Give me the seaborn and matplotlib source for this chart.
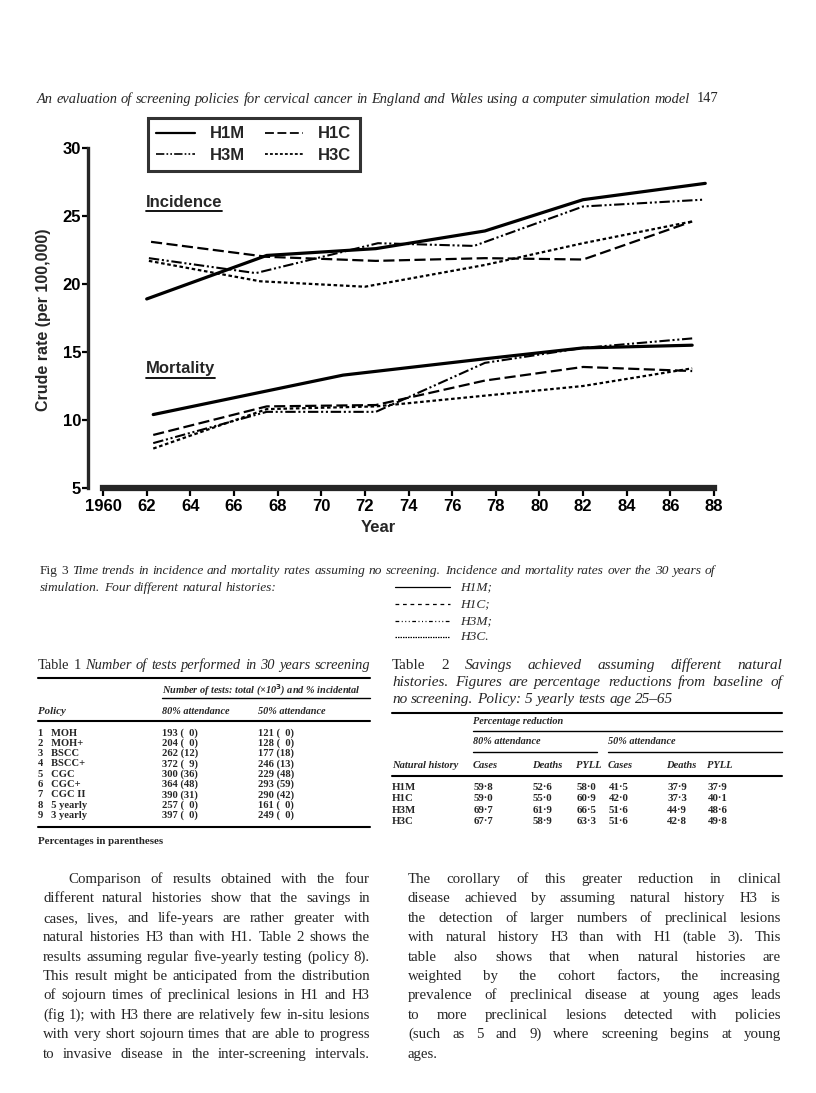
import numpy as np
import pandas as pd
import seaborn as sns
import matplotlib.pyplot as plt
from matplotlib.lines import Line2D

# Fig 3 data: crude rate per 100,000
histories = ['H1M', 'H3M', 'H1C', 'H3C']

inc_h1m_year = [1962.0, 1967.5, 1972.5, 1977.5, 1982.0, 1987.6]
inc_h1m_rate = [18.9, 22.1, 22.6, 23.9, 26.2, 27.4]
inc_h1c_year = [1962.2, 1967.5, 1972.5, 1977.5, 1982.0, 1987.0]
inc_h1c_rate = [23.1, 22.0, 21.7, 21.9, 21.8, 24.6]
inc_h3m_year = [1962.1, 1967.0, 1972.6, 1977.0, 1982.0, 1987.5]
inc_h3m_rate = [21.9, 20.8, 23.0, 22.8, 25.7, 26.2]
inc_h3c_year = [1962.1, 1967.2, 1972.0, 1977.5, 1982.0, 1987.0]
inc_h3c_rate = [21.7, 20.2, 19.8, 21.4, 23.0, 24.6]

mort_h1m_year = [1962.3, 1971.0, 1977.5, 1982.0, 1987.0]
mort_h1m_rate = [10.4, 13.3, 14.5, 15.3, 15.5]
mort_h1c_year = [1962.3, 1967.5, 1972.5, 1977.5, 1982.0, 1987.0]
mort_h1c_rate = [8.9, 11.0, 11.1, 12.9, 13.9, 13.6]
mort_h3m_year = [1962.3, 1967.5, 1972.5, 1977.5, 1982.0, 1987.0]
mort_h3m_rate = [8.3, 10.6, 10.6, 14.2, 15.3, 16.0]
mort_h3c_year = [1962.3, 1967.5, 1972.5, 1982.0, 1987.0]
mort_h3c_rate = [7.9, 10.8, 11.0, 12.5, 13.8]

xtick_vals = list(range(1960, 1989, 2))
xtick_labels = ['1960'] + [str(v % 100) for v in xtick_vals[1:]]
ytick_vals = [5, 10, 15, 20, 25, 30]

# Table 1
t1_policy = ['1   MOH', '2   MOH+', '3   BSCC', '4   BSCC+', '5   CGC', '6   CGC+',
             '7   CGC II', '8   5 yearly', '9   3 yearly']
t1_att80 = ['193 (  0)', '204 (  0)', '262 (12)', '372 (  9)', '300 (36)', '364 (48)',
            '390 (31)', '257 (  0)', '397 (  0)']
t1_att50 = ['121 (  0)', '128 (  0)', '177 (18)', '246 (13)', '229 (48)', '293 (59)',
            '290 (42)', '161 (  0)', '249 (  0)']

# Table 2
t2_history = ['H1M', 'H1C', 'H3M', 'H3C']
t2_cases80 = ['59·8', '59·0', '69·7', '67·7']
t2_deaths80 = ['52·6', '55·0', '61·9', '58·9']
t2_pyll80 = ['58·0', '60·9', '66·5', '63·3']
t2_cases50 = ['41·5', '42·0', '51·6', '51·6']
t2_deaths50 = ['37·9', '37·3', '44·9', '42·8']
t2_pyll50 = ['37·9', '40·1', '48·6', '49·8']

para_left = [
    'Comparison of results obtained with the four',
    'different natural histories show that the savings in',
    'cases, lives, and life-years are rather greater with',
    'natural histories H3 than with H1. Table 2 shows the',
    'results assuming regular five-yearly testing (policy 8).',
    'This result might be anticipated from the distribution',
    'of sojourn times of preclinical lesions in H1 and H3',
    '(fig 1); with H3 there are relatively few in-situ lesions',
    'with very short sojourn times that are able to progress',
    'to invasive disease in the inter-screening intervals.',
]
para_right = [
    'The corollary of this greater reduction in clinical',
    'disease achieved by assuming natural history H3 is',
    'the detection of larger numbers of preclinical lesions',
    'with natural history H3 than with H1 (table 3). This',
    'table also shows that when natural histories are',
    'weighted by the cohort factors, the increasing',
    'prevalence of preclinical disease at young ages leads',
    'to more preclinical lesions detected with policies',
    '(such as 5 and 9) where screening begins at young',
    'ages.',
]

# long-form table for seaborn
frames = []
for measure, hist, yrs, vals in [
        ('Incidence', 'H1M', inc_h1m_year, inc_h1m_rate),
        ('Incidence', 'H1C', inc_h1c_year, inc_h1c_rate),
        ('Incidence', 'H3M', inc_h3m_year, inc_h3m_rate),
        ('Incidence', 'H3C', inc_h3c_year, inc_h3c_rate),
        ('Mortality', 'H1M', mort_h1m_year, mort_h1m_rate),
        ('Mortality', 'H1C', mort_h1c_year, mort_h1c_rate),
        ('Mortality', 'H3M', mort_h3m_year, mort_h3m_rate),
        ('Mortality', 'H3C', mort_h3c_year, mort_h3c_rate)]:
    frames.append(pd.DataFrame({'year': yrs, 'rate': vals, 'history': hist, 'measure': measure}))
df = pd.concat(frames, ignore_index=True)

sns.set_theme(style='ticks')
plt.rcParams['font.family'] = ['Liberation Sans', 'DejaVu Sans']
plt.rcParams['font.weight'] = 'bold'

W, H = 816, 1093
fig = plt.figure(figsize=(W / 100, H / 100), dpi=100)
fig.patch.set_facecolor('white')

def fx(x):
    return x / W

def fy(y):
    return 1 - y / H

ax = fig.add_axes([fx(88), fy(488), (714 - 88) / W, (488 - 148) / H])
ax.set_facecolor('white')

dash_map = {'H1M': '', 'H1C': (5, 2), 'H3M': (5, 1.3, 1, 1.3, 1, 1.3), 'H3C': (1.6, 1.2)}
width_map = {'H1M': 2.3, 'H1C': 1.6, 'H3M': 1.5, 'H3C': 1.6}

sns.lineplot(data=df, x='year', y='rate', style='history', size='history', units='measure',
             estimator=None, color='black', dashes=dash_map, sizes=width_map,
             style_order=histories, size_order=histories, legend=False, ax=ax)

ax.set_xlim(1959.31, 1988.0)
ax.set_ylim(5, 30)
sns.despine(ax=ax)
ax.spines['left'].set_bounds(5, 30)
ax.spines['left'].set_linewidth(2.4)
ax.spines['bottom'].set_bounds(1960, 1988)
ax.spines['bottom'].set_linewidth(4.5)
ax.set_xticks(xtick_vals)
ax.set_xticklabels(xtick_labels)
ax.set_yticks(ytick_vals)
ax.tick_params(axis='x', length=6, width=1.6, pad=2, labelsize=12, colors='black')
ax.tick_params(axis='y', length=4, width=1.6, pad=1, labelsize=12, colors='black')
ax.set_xlabel('Year', fontsize=12, fontweight='bold')
ax.set_ylabel('Crude rate (per 100,000)', fontsize=11.5, fontweight='bold')
ax.xaxis.set_label_coords((378 - 88) / 626, -(528 - 488) / 340)
ax.yaxis.set_label_coords((44 - 88) / 626, (488 - 320) / 340)
ax.yaxis.label.set_va('center')
ax.xaxis.label.set_va('center')
ax.grid(False)

inc_txt = ax.text(1961.95, 26.0, 'Incidence', fontsize=12, va='center', ha='left')
mort_txt = ax.text(1961.95, 13.75, 'Mortality', fontsize=12, va='center', ha='left')

handles = []
for h in histories:
    if dash_map[h] == '':
        handles.append(Line2D([], [], color='black', lw=width_map[h] * 0.7))
    else:
        handles.append(Line2D([], [], color='black', lw=width_map[h] * 0.8, dashes=dash_map[h]))
leg = ax.legend(handles, histories, ncol=2, loc='upper left',
                bbox_to_anchor=(fx(148), fy(118)), bbox_transform=fig.transFigure,
                frameon=True, fancybox=False, edgecolor='black', fontsize=12,
                handlelength=2.3, handletextpad=0.9, columnspacing=1.2, borderpad=0.5,
                labelspacing=0.4, borderaxespad=0)
leg.get_frame().set_linewidth(2.2)

fig.canvas.draw()
renderer = fig.canvas.get_renderer()

# underline Incidence / Mortality
for t in (inc_txt, mort_txt):
    bb = t.get_window_extent(renderer)
    yline = bb.y0 - 1
    fig.add_artist(Line2D([bb.x0 / W, bb.x1 / W], [yline / H, yline / H], color='black', lw=1.3))

SERIF = 'Liberation Serif'


def natural_width(segments, size, weight='normal'):
    total = 0
    n = 0
    for text, style in segments:
        for w in text.split():
            t = fig.text(0, 0, w, fontsize=size, family=SERIF, style=style, weight=weight)
            total += t.get_window_extent(renderer).width
            t.remove()
            n += 1
    return total + (n - 1) * size * 100 / 72 * 0.25


def fit_size(segment_lists, target, base=10.0, weight='normal'):
    widest = max(natural_width(s, base, weight) for s in segment_lists)
    return base * target / widest


def words_line(segments, x0, ybase, x1=None, size=10.5, weight='normal'):
    """segments: list of (text, style). justified between x0 and x1 if x1 given"""
    objs = []
    for text, style in segments:
        for w in text.split():
            objs.append(fig.text(0, fy(ybase), w, fontsize=size, family=SERIF,
                                 style=style, weight=weight, va='baseline', ha='left'))
    widths = [o.get_window_extent(renderer).width for o in objs]
    if x1 is None or len(objs) < 2:
        gap = size * 100 / 72 * 0.25
    else:
        gap = (x1 - x0 - sum(widths)) / (len(objs) - 1)
    x = x0
    for o, w in zip(objs, widths):
        o.set_x(fx(x))
        x += w + gap
    return x - gap


def ptext(x, y, s, size=8.5, style='normal', weight='normal', ha='left', va='center'):
    return fig.text(fx(x), fy(y), s, fontsize=size, family=SERIF, style=style,
                    weight=weight, ha=ha, va=va)


def hrule(x0, x1, y, lw=1.0):
    fig.add_artist(Line2D([fx(x0), fx(x1)], [fy(y), fy(y)], color='black', lw=lw))


# running header
head = [('An evaluation of screening policies for cervical cancer in England and Wales using a computer simulation model', 'italic')]
hs = fit_size([head], 690 - 37)
words_line(head, 37, 103, 690, size=hs)
ptext(718, 98, '147', size=hs, ha='right')

# figure caption
cap1 = [('Fig 3', 'normal'),
        ('Time trends in incidence and mortality rates assuming no screening. Incidence and mortality rates over the 30 years of', 'italic')]
cs = fit_size([cap1], 715 - 40) * 0.99
words_line(cap1, 40, 574, 715, size=cs)
words_line([('simulation. Four different natural histories:', 'italic')], 40, 591, size=cs)
cap_y = [587, 604, 621, 637]
cap_lab = ['H1M;', 'H1C;', 'H3M;', 'H3C.']
cap_dash = ['', (3, 3), (3, 2, 0.8, 2, 0.8, 2, 0.8, 2), (1.2, 0.8)]
for yy, lab, d in zip(cap_y, cap_lab, cap_dash):
    ln = Line2D([fx(395), fx(450)], [fy(yy), fy(yy)], color='black', lw=0.9)
    if d != '':
        ln.set_dashes(d)
    fig.add_artist(ln)
    ptext(460, yy, lab, size=cs, style='italic')

# Table 1
t1_title = [('Table 1', 'normal'), ('Number of tests performed in 30 years screening', 'italic')]
ts = fit_size([t1_title], 370 - 38) * 0.98
words_line(t1_title, 38, 669, 370, size=ts)
hrule(38, 370, 678, lw=1.5)
ptext(162, 690, 'Number of tests: total (×10$^3$) and % incidental', size=7.4, style='italic', weight='bold')
hrule(162, 370, 698, lw=1.0)
ptext(38, 711, 'Policy', size=7.8, style='italic', weight='bold')
ptext(162, 711, '80% attendance', size=7.4, style='italic', weight='bold')
ptext(258, 711, '50% attendance', size=7.4, style='italic', weight='bold')
hrule(38, 370, 721, lw=1.5)
t1_rows_y = [733 + 10.3 * i for i in range(len(t1_policy))]
for yy, a, b, c in zip(t1_rows_y, t1_policy, t1_att80, t1_att50):
    ptext(38, yy, a, size=7.6, weight='bold')
    ptext(162, yy, b, size=7.6, weight='bold')
    ptext(258, yy, c, size=7.6, weight='bold')
hrule(38, 370, 827, lw=1.5)
ptext(38, 842, 'Percentages in parentheses', size=7.8, weight='bold')

# Table 2
t2_title = [[('Table 2', 'normal'), ('Savings achieved assuming different natural', 'italic')],
            [('histories. Figures are percentage reductions from baseline of', 'italic')]]
t2s = min(ts * 1.06, fit_size(t2_title[1:], 782 - 392) * 0.99)
words_line(t2_title[0], 392, 669, 782, size=t2s)
words_line(t2_title[1], 392, 686, 782, size=t2s)
words_line([('no screening. Policy: 5 yearly tests age 25–65', 'italic')], 392, 703, size=t2s)
hrule(392, 782, 713, lw=1.5)
ptext(473, 721, 'Percentage reduction', size=7.4, style='italic', weight='bold')
hrule(473, 782, 731, lw=1.0)
ptext(473, 742, '80% attendance', size=7.4, style='italic', weight='bold')
ptext(608, 742, '50% attendance', size=7.4, style='italic', weight='bold')
hrule(473, 597, 752, lw=1.0)
hrule(608, 782, 752, lw=1.0)
ptext(392, 766, 'Natural history', size=7.6, style='italic', weight='bold')
t2_cols_x = [473, 532, 576, 608, 666, 707]
for xx, lab in zip(t2_cols_x, ['Cases', 'Deaths', 'PYLL', 'Cases', 'Deaths', 'PYLL']):
    ptext(xx, 766, lab, size=7.6, style='italic', weight='bold')
hrule(392, 782, 776, lw=1.5)
t2_rows_y = [787 + 11.6 * i for i in range(len(t2_history))]
for i, yy in enumerate(t2_rows_y):
    ptext(392, yy, t2_history[i], size=7.8, weight='bold')
    for xx, col in zip(t2_cols_x, [t2_cases80, t2_deaths80, t2_pyll80, t2_cases50, t2_deaths50, t2_pyll50]):
        ptext(xx + 1, yy, col[i], size=7.8, weight='bold')

# body text, size chosen so the widest line fits its column
ls = fit_size([[(l, 'normal')] for l in para_left[1:]], 370 - 43)
rs = fit_size([[(l, 'normal')] for l in para_right[:-1]], 781 - 408)
bs = min(ls, rs) * 0.985
for i, line in enumerate(para_left):
    x0 = 68 if i == 0 else 43
    words_line([(line, 'normal')], x0, 883 + 19.4 * i, 370, size=bs)
for i, line in enumerate(para_right):
    last = i == len(para_right) - 1
    words_line([(line, 'normal')], 408, 883 + 19.4 * i, None if last else 781, size=bs)

fig.savefig('out.png', dpi=100)
